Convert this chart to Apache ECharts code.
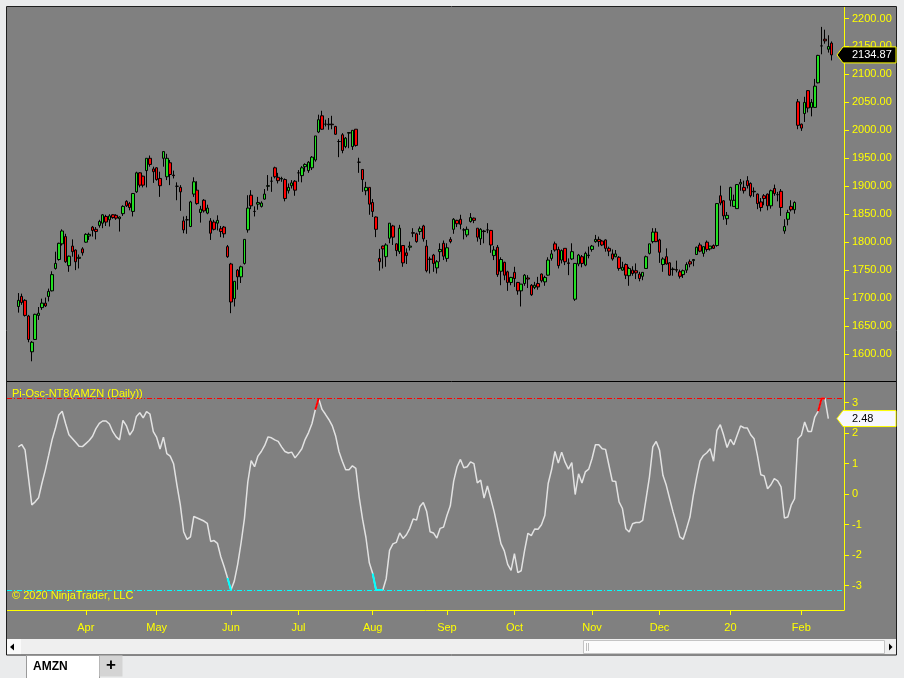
<!DOCTYPE html>
<html><head><meta charset="utf-8">
<script src="https://cdn.jsdelivr.net/npm/echarts@6/dist/echarts.min.js"></script>
<style>html,body{margin:0;padding:0;background:#eaebec;overflow:hidden}#c{width:904px;height:678px}</style>
</head><body><div id="c"></div>
<script>
// ---- data (AMZN daily, bar index 0 = first bar) ----
const opens = [
1685,1703,1696,1668,1604,1626,1669,1683,1691,1703,
1713,1753,1769,1797,1810,1758,1793,1786,1771,1788,
1800,1811,1827,1823,1830,1834,1846,1840,1849,1848,
1842,1851,1873,1869,1855,1890,1924,1918,1928,1950,
1931,1933,1914,1950,1917,1942,1920,1900,1898,1838,
1840,1828,1886,1893,1853,1875,1852,1838,1836,1834,
1824,1827,1792,1761,1699,1750,1738,1762,1822,1884,
1855,1868,1864,1877,1900,1909,1933,1916,1913,1912,
1892,1901,1909,1924,1919,1935,1928,1933,1947,1997,
2026,2011,2010,2011,2007,1980,1992,1971,1995,1971,
2002,1943,1930,1892,1898,1871,1845,1771,1793,1774,
1807,1829,1797,1783,1794,1781,1791,1817,1815,1819,
1829,1793,1770,1777,1754,1783,1798,1771,1805,1823,
1839,1841,1822,1813,1837,1843,1825,1806,1820,1822,
1821,1776,1791,1748,1764,1747,1728,1746,1728,1713,
1726,1736,1723,1719,1726,1743,1729,1741,1771,1797,
1787,1768,1789,1763,1770,1698,1761,1774,1759,1776,
1787,1801,1805,1802,1804,1789,1779,1774,1773,1750,
1760,1740,1750,1749,1743,1739,1753,1780,1801,1818,
1804,1760,1774,1763,1751,1751,1747,1742,1750,1765,
1767,1778,1795,1780,1800,1788,1794,1794,1883,1874,
1842,1875,1864,1860,1904,1898,1910,1905,1890,1886,
1872,1883,1886,1865,1896,1885,1891,1820,1841,1864,
1858,2051,2011,2030,2071,2041,2041,2085,2151,2163,
2145,2156];
const highs = [
1709,1708,1698,1670,1623,1672,1684,1699,1701,1717,
1748,1783,1799,1823,1815,1776,1805,1787,1778,1791,
1816,1817,1829,1827,1840,1850,1849,1850,1850,1850,
1846,1866,1875,1872,1888,1926,1925,1919,1950,1955,
1935,1934,1926,1962,1958,1947,1928,1907,1902,1846,
1847,1874,1916,1909,1865,1877,1867,1843,1840,1848,
1829,1829,1795,1763,1730,1752,1758,1805,1884,1893,
1864,1881,1873,1895,1920,1917,1935,1924,1917,1914,
1905,1911,1911,1929,1936,1941,1945,1954,1990,2028,
2035,2019,2022,2026,2008,1984,1995,1988,1997,2000,
2002,1951,1930,1908,1898,1877,1846,1788,1794,1798,
1834,1831,1798,1831,1794,1789,1801,1825,1817,1828,
1831,1804,1774,1779,1768,1798,1803,1798,1809,1843,
1840,1849,1825,1828,1852,1844,1825,1825,1822,1834,
1822,1793,1795,1773,1765,1749,1738,1756,1729,1725,
1743,1741,1725,1729,1738,1744,1740,1773,1786,1801,
1792,1787,1789,1771,1798,1762,1779,1777,1783,1792,
1795,1813,1810,1804,1805,1792,1787,1786,1775,1765,
1762,1756,1757,1762,1747,1746,1776,1797,1825,1825,
1806,1773,1789,1764,1755,1767,1751,1751,1764,1769,
1770,1792,1799,1792,1803,1793,1796,1870,1901,1875,
1854,1899,1885,1904,1913,1910,1918,1907,1898,1887,
1879,1886,1887,1894,1903,1890,1895,1841,1858,1875,
1873,2056,2012,2060,2072,2056,2092,2135,2185,2180,
2170,2159];
const lows = [
1674,1688,1667,1621,1587,1625,1661,1679,1684,1694,
1712,1751,1767,1794,1763,1747,1774,1750,1753,1776,
1799,1804,1810,1805,1826,1825,1829,1828,1842,1840,
1819,1847,1863,1857,1846,1888,1898,1898,1898,1935,
1906,1910,1881,1935,1911,1902,1914,1875,1856,1816,
1815,1827,1881,1867,1835,1853,1850,1804,1821,1821,
1809,1808,1772,1673,1685,1715,1727,1760,1817,1859,
1846,1858,1862,1876,1892,1890,1914,1905,1908,1873,
1887,1896,1883,1908,1907,1926,1924,1929,1944,1995,
2001,2007,2001,2002,1992,1952,1959,1968,1968,1965,
1971,1924,1890,1884,1849,1845,1809,1749,1753,1756,
1798,1795,1775,1779,1756,1761,1785,1809,1799,1813,
1801,1746,1744,1747,1744,1765,1768,1765,1798,1815,
1827,1823,1805,1809,1835,1834,1801,1795,1798,1816,
1781,1768,1738,1723,1732,1713,1723,1720,1706,1685,
1722,1718,1704,1716,1715,1728,1722,1740,1767,1783,
1753,1762,1759,1741,1768,1695,1757,1755,1757,1771,
1783,1799,1792,1793,1783,1775,1767,1773,1749,1749,
1734,1722,1740,1734,1730,1732,1753,1778,1798,1800,
1763,1747,1760,1740,1740,1746,1735,1736,1745,1755,
1757,1777,1782,1774,1783,1785,1788,1792,1866,1840,
1831,1864,1864,1860,1892,1887,1896,1880,1881,1859,
1855,1866,1857,1860,1883,1873,1847,1815,1830,1855,
1851,2002,1999,2015,2032,2025,2041,2084,2136,2155,
2139,2125];
const closes = [
1696,1692,1669,1626,1621,1671,1673,1691,1686,1712,
1742,1762,1798,1820,1765,1775,1783,1765,1773,1781,
1814,1814,1821,1819,1837,1849,1836,1847,1844,1843,
1845,1864,1865,1862,1887,1924,1902,1902,1950,1939,
1926,1912,1901,1962,1950,1921,1919,1900,1890,1822,
1840,1872,1908,1869,1859,1856,1861,1816,1823,1839,
1819,1815,1774,1693,1730,1738,1756,1805,1861,1865,
1855,1871,1870,1886,1901,1909,1917,1910,1914,1878,
1898,1906,1893,1924,1933,1939,1943,1952,1990,2019,
2002,2011,2011,2010,1993,1980,1964,1986,1996,2000,
1973,1943,1912,1898,1868,1855,1823,1765,1788,1795,
1834,1809,1785,1825,1763,1776,1793,1816,1801,1824,
1806,1749,1769,1762,1765,1787,1775,1790,1801,1841,
1833,1832,1822,1823,1844,1839,1809,1823,1819,1822,
1795,1786,1742,1769,1741,1728,1737,1735,1713,1725,
1741,1734,1706,1723,1720,1731,1737,1768,1779,1786,
1758,1785,1765,1762,1783,1762,1777,1762,1780,1777,
1793,1805,1801,1795,1789,1784,1770,1779,1753,1755,
1741,1753,1744,1745,1735,1746,1774,1797,1818,1801,
1782,1770,1761,1741,1752,1750,1739,1749,1760,1761,
1769,1791,1784,1792,1787,1793,1789,1869,1870,1847,
1848,1898,1875,1903,1907,1892,1901,1883,1891,1869,
1862,1878,1865,1892,1887,1885,1862,1828,1853,1858,
1871,2009,2004,2050,2040,2050,2079,2134,2151,2160,
2150,2134.87];
const osc = [
1.55,1.63,1.45,0.55,-0.35,-0.25,-0.12,0.36,0.79,1.28,
1.78,2.16,2.6,2.72,2.32,1.95,1.83,1.7,1.57,1.56,
1.66,1.76,1.9,2.15,2.32,2.4,2.4,2.3,2.05,1.88,
1.78,2.42,2.25,1.94,2.1,2.55,2.67,2.5,2.71,2.63,
2.05,1.86,1.48,1.87,1.33,1.25,1.0,0.3,-0.35,-1.23,
-1.48,-1.4,-0.73,-0.78,-0.83,-0.88,-0.96,-1.55,-1.52,-1.61,
-2.05,-2.38,-2.75,-3.1416,-2.85,-2.3,-1.6,-0.8,0.4,1.1,
0.9,1.25,1.4,1.6,1.88,1.85,1.78,1.73,1.55,1.4,
1.35,1.38,1.19,1.33,1.49,1.8,2.02,2.31,2.77,3.1416,
2.78,2.62,2.45,2.25,1.92,1.4,1.08,0.8,0.8,0.93,
0.85,-0.1,-0.82,-1.42,-2.25,-2.6,-3.1416,-3.1416,-3.1416,-2.77,
-1.84,-1.63,-1.58,-1.27,-1.45,-1.33,-1.12,-0.81,-0.85,-0.4,
-0.27,-0.57,-1.23,-1.27,-1.44,-1.12,-1.08,-0.7,-0.38,0.43,
0.9,1.14,0.87,0.9,1.06,1.0,0.37,0.46,-0.13,0.27,
-0.15,-0.58,-1.1,-1.62,-1.86,-2.3,-2.5,-1.95,-2.57,-2.51,
-1.85,-1.28,-1.36,-1.14,-1.15,-1.0,-0.7,0.35,0.8,1.4,
1.02,1.38,1.05,0.82,1.04,-0.01,0.67,0.37,0.73,0.82,
1.17,1.62,1.62,1.49,1.47,0.95,0.43,0.42,-0.25,-0.47,
-1.13,-1.24,-0.97,-0.93,-0.93,-0.86,-0.15,0.56,1.55,1.73,
1.44,0.62,0.29,-0.15,-0.58,-0.97,-1.4,-1.48,-1.13,-0.75,
-0.04,0.56,1.09,1.27,1.36,1.49,1.08,2.09,2.28,1.93,
1.53,1.8,1.62,1.93,2.24,2.18,2.17,1.95,1.82,1.27,
0.64,0.6,0.18,0.31,0.51,0.44,0.24,-0.78,-0.75,-0.36,
-0.15,1.82,1.93,2.37,2.06,2.06,2.53,2.72,3.1416,3.1416,
2.48,null];
const monthTickIdx = [20,41,63,83,105,127,147,170,190,211,232];
const monthLabels = ['Apr','May','Jun','Jul','Aug','Sep','Oct','Nov','Dec','20','Feb'];
const priceTicks = [1600,1650,1700,1750,1800,1850,1900,1950,2000,2050,2100,2150,2200];
const oscTicks = [-3,-2,-1,0,1,2,3];
const oscBand = 3.1416;

// ---- chart ----
const FONT = '"Liberation Sans", Arial, sans-serif';
const YEL = '#ffff00';
const xMin = -3.35, xMax = 244.65;
const chart = echarts.init(document.getElementById('c'), null, {renderer:'canvas', width:904, height:678});

const candleData = opens.map((o,i)=>[i, o, closes[i], lows[i], highs[i]]);
const oscData = osc.map((v,i)=>[i, v==null ? '-' : v]);
const hiData = osc.map((v,i)=>[i, (v!=null && (v>=oscBand-0.01 || (osc[i+1]!=null && osc[i+1]>=oscBand-0.01))) ? v : '-']);
const loData = osc.map((v,i)=>[i, (v!=null && (v<=-oscBand+0.01 || (osc[i+1]!=null && osc[i+1]<=-oscBand+0.01))) ? v : '-']);

function yAxisStyle(ticks, fmt){
  return {
    position:'right',
    axisLine:{show:true, onZero:false, lineStyle:{color:YEL, width:1}},
    axisTick:{show:true, customValues:ticks, length:5, lineStyle:{color:YEL, width:1}},
    axisLabel:{show:true, customValues:ticks, formatter:fmt, color:YEL, fontSize:11, fontFamily:FONT, margin:8},
    splitLine:{show:false}
  };
}

const option = {
  animation:false,
  backgroundColor:'transparent',
  grid:[
    {left:7, top:7, width:837, height:374, show:false, outerBoundsMode:'none'},
    {left:7, top:382, width:837, height:228, show:false, outerBoundsMode:'none'}
  ],
  xAxis:[
    {type:'value', gridIndex:0, min:xMin, max:xMax, show:false},
    {type:'value', gridIndex:1, min:xMin, max:xMax,
      axisLine:{show:true, onZero:false, lineStyle:{color:YEL, width:1}},
      axisTick:{show:true, customValues:monthTickIdx, length:5, lineStyle:{color:YEL}},
      axisLabel:{show:true, customValues:monthTickIdx, formatter:(v)=>monthLabels[monthTickIdx.indexOf(v)] || '',
        color:YEL, fontSize:11, fontFamily:FONT, margin:12},
      splitLine:{show:false}}
  ],
  yAxis:[
    Object.assign({type:'value', gridIndex:0, min:1551.75, max:2220.56}, yAxisStyle(priceTicks, v=>v.toFixed(2))),
    Object.assign({type:'value', gridIndex:1, min:-3.797, max:3.679}, yAxisStyle(oscTicks, v=>String(v)))
  ],
  series:[
    {type:'candlestick', name:'AMZN', xAxisIndex:0, yAxisIndex:0, data:candleData,
      encode:{x:0, y:[1,2,3,4]}, barWidth:3, silent:true,
      itemStyle:{color:'#22e022', color0:'#ff0000', borderColor:'#000', borderColor0:'#000', borderColorDoji:'#000', borderWidth:1}},
    {type:'line', name:'Pi-Osc', xAxisIndex:1, yAxisIndex:1, data:oscData, symbol:'none', showSymbol:false, silent:true,
      lineStyle:{color:'#e2e2e2', width:1.5}, z:3,
      markLine:{silent:true, symbol:'none', label:{show:false}, animation:false,
        data:[
          {yAxis:oscBand, lineStyle:{color:'#ff0000', type:[5,2,1,2], width:1}},
          {yAxis:-oscBand, lineStyle:{color:'#00ffff', type:[5,2,1,2], width:1}}
        ]}},
    {type:'line', name:'Pi-Osc high', xAxisIndex:1, yAxisIndex:1, data:hiData, symbol:'none', showSymbol:false, silent:true,
      lineStyle:{color:'#ff0000', width:2}, z:4},
    {type:'line', name:'Pi-Osc low', xAxisIndex:1, yAxisIndex:1, data:loData, symbol:'none', showSymbol:false, silent:true,
      lineStyle:{color:'#00ffff', width:2}, z:4}
  ]
};
chart.setOption(option);

// ---- chrome and value flags ----
const ax = chart.convertToPixel({xAxisIndex:0}, xMax);
const lastClose = closes[closes.length-1];
const oscVals = osc.filter(v=>v!=null);
const lastOsc = oscVals[oscVals.length-1];
const yP = chart.convertToPixel({yAxisIndex:0}, lastClose);
const yO = chart.convertToPixel({yAxisIndex:1}, lastOsc);

function txt(x, y, s, font, fill, align){
  return {type:'text', x:x, y:y, silent:true, z:40,
    style:{text:s, font:font, fill:fill, align:align||'left', textAlign:align||'left', verticalAlign:'middle', textVerticalAlign:'middle'}};
}
function flag(y, fill, stroke, textFill, s){
  return [
    {type:'polygon', silent:true, z:35, shape:{points:[[ax-7,y],[ax-1,y-8],[896,y-8],[896,y+8],[ax-1,y+8]]},
      style:{fill:fill, stroke:stroke, lineWidth:1}},
    txt(ax+8, y+0.5, s, '11px '+FONT, textFill)
  ];
}

const g = [
  {type:'rect', silent:true, z:-100, shape:{x:7,y:7,width:889,height:632}, style:{fill:'#808080'}},
  {type:'rect', silent:true, z:-99, shape:{x:7,y:639,width:889,height:16}, style:{fill:'#efefef'}},
  {type:'rect', silent:true, z:-98, shape:{x:7,y:639,width:14,height:16}, style:{fill:'#fafafa'}},
  {type:'polygon', silent:true, z:10, shape:{points:[[10,647],[14,643.5],[14,650.5]]}, style:{fill:'#000'}},
  {type:'rect', silent:true, z:10, shape:{x:583.5,y:640.5,width:301,height:13}, style:{fill:'#fbfbfb', stroke:'#c4c4c4', lineWidth:1}},
  {type:'line', silent:true, z:11, shape:{x1:586.5,y1:643,x2:586.5,y2:651}, style:{stroke:'#c0c0c0'}},
  {type:'line', silent:true, z:11, shape:{x1:588.5,y1:643,x2:588.5,y2:651}, style:{stroke:'#c0c0c0'}},
  {type:'polygon', silent:true, z:10, shape:{points:[[892.5,647],[889,643.5],[889,650.5]]}, style:{fill:'#000'}},
  {type:'line', silent:true, z:5, shape:{x1:7,y1:381.5,x2:896,y2:381.5}, style:{stroke:'#000', lineWidth:1}},
  {type:'rect', silent:true, z:20, shape:{x:6.5,y:6.5,width:890,height:648.5}, style:{fill:'none', stroke:'#1e1e1e', lineWidth:1}},
  {type:'rect', silent:true, z:21, shape:{x:26.5,y:655.5,width:73,height:23}, style:{fill:'#ffffff', stroke:'#9a9a9a', lineWidth:1}},
  {type:'rect', silent:true, z:21, shape:{x:99.5,y:655.5,width:23,height:21}, style:{fill:'#d4d4d4'}},
  txt(33, 667, 'AMZN', 'bold 12px '+FONT, '#000'),
  txt(111, 665.5, '+', 'bold 17px '+FONT, '#000', 'center'),
  txt(12, 394, 'Pi-Osc-NT8(AMZN (Daily))', '11px '+FONT, YEL),
  txt(12, 596, '\u00a9 2020 NinjaTrader, LLC', '11px '+FONT, YEL)
].concat(flag(yP, '#000000', YEL, '#ffffff', lastClose.toFixed(2)))
 .concat(flag(yO, '#f6f6ff', YEL, '#000000', lastOsc.toFixed(2)));

chart.setOption({graphic:g});
</script>
</body></html>
